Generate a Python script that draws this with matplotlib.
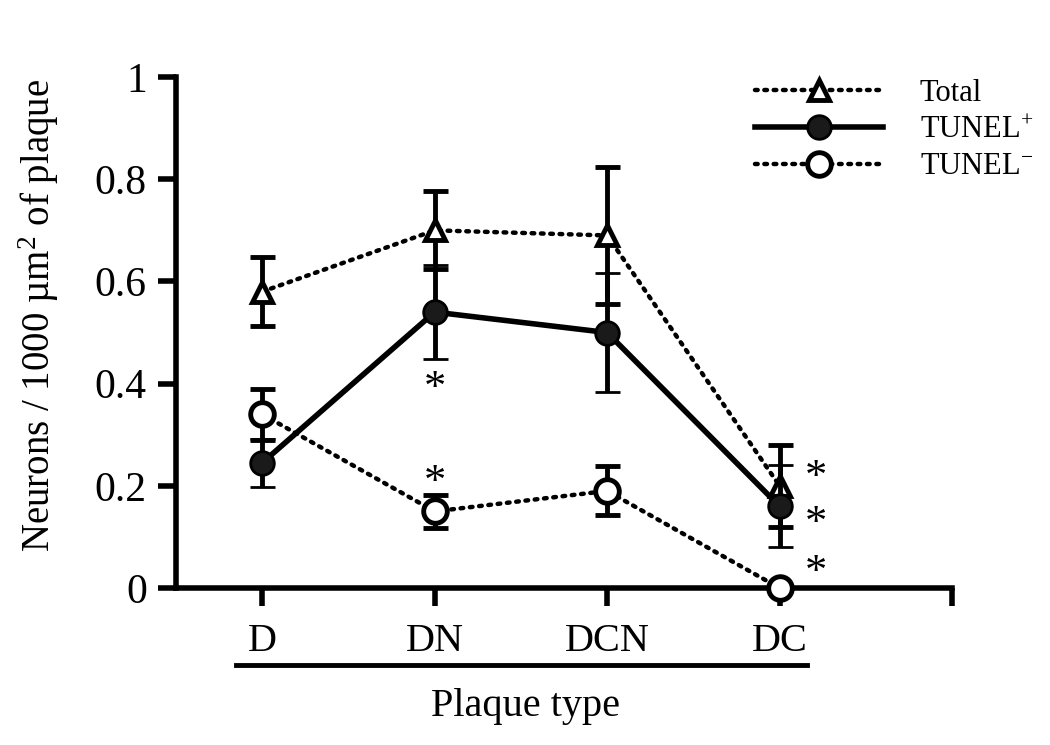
import matplotlib
matplotlib.use("Agg")
import matplotlib.pyplot as plt
import numpy as np

plt.rcParams['font.family'] = ['Liberation Serif', 'DejaVu Serif']
plt.rcParams['mathtext.fontset'] = 'custom'
plt.rcParams['mathtext.rm'] = 'Liberation Serif'
plt.rcParams['mathtext.it'] = 'Liberation Serif:italic'

# data
plaque = ["D", "DN", "DCN", "DC"]
series = ["Total", "TUNEL$^{+}$", "TUNEL$^{-}$"]
total = [0.58, 0.70, 0.69, 0.20]
total_err = [0.068, 0.076, 0.134, 0.08]
tunel_pos = [0.245, 0.54, 0.50, 0.16]
tunel_pos_err = [0.047, 0.092, 0.117, 0.08]
tunel_neg = [0.34, 0.15, 0.19, 0.0]
tunel_neg_err = [0.05, 0.032, 0.048, 0.0]

# significance stars (category index, y)
stars_x = [1.0, 1.0, 3.21, 3.21, 3.21]
stars_y = [0.39, 0.205, 0.215, 0.125, 0.03]

x = np.arange(len(plaque))

fig = plt.figure(figsize=(10.5, 7.45), dpi=100)
ax = fig.add_axes([0.1676, 0.2107, 0.9067 - 0.1676, 0.8966 - 0.2107])

dots = (0, (0.6, 1.5))
lw = 3.2
ms = 17
eb = dict(capsize=9, capthick=3.5, elinewidth=3.5, ecolor='black')

c1 = ax.errorbar(x, total, yerr=total_err, color='black', lw=lw, ls=dots,
                 dash_capstyle='round', marker='^', ms=15, mfc='white', mec='black',
                 mew=3.5, zorder=3, **eb)
c2 = ax.errorbar(x, tunel_pos, yerr=tunel_pos_err, color='black', lw=4, ls='-',
                 marker='o', ms=ms, mfc='#1a1a1a', mec='black', mew=2,
                 zorder=4, **eb)
c3 = ax.errorbar(x, tunel_neg, yerr=tunel_neg_err, color='black', lw=lw, ls=dots,
                 dash_capstyle='round', marker='o', ms=ms, mfc='white', mec='black',
                 mew=3.5, zorder=5, clip_on=False, **eb)

for sx, sy in zip(stars_x, stars_y):
    ax.text(sx, sy, "*", ha='center', va='center', fontsize=32)

ax.set_xlim(-0.5, 4.0)
ax.set_ylim(0, 1)
ax.set_xticks([0, 1, 2, 3, 4])
ax.set_xticklabels(plaque + [""])
ax.set_yticks([0, 0.2, 0.4, 0.6, 0.8, 1.0])
ax.set_yticklabels(["0", "0.2", "0.4", "0.6", "0.8", "1"])
ax.tick_params(axis='both', width=4, length=13, labelsize=30, color='black')
ax.tick_params(axis='x', pad=12, labelsize=29)
ax.tick_params(axis='y', pad=8)

for s in ['top', 'right']:
    ax.spines[s].set_visible(False)
for s in ['left', 'bottom']:
    ax.spines[s].set_linewidth(4)

ax.set_ylabel("Neurons / 1000 µm$^{2}$ of plaque", fontsize=28)
ax.yaxis.set_label_coords(-0.148, 0.534)
ax.set_xlabel("Plaque type", fontsize=29)
ax.xaxis.set_label_coords(0.45, -0.195)

# underline below the category labels
ax.plot([-0.15, 3.16], [-0.151, -0.151], color='black', lw=3.5, clip_on=False)

leg = ax.legend(handles=[c1[0], c2[0], c3[0]], labels=series, loc='upper left',
                bbox_to_anchor=(0.73, 1.02), frameon=False,
                fontsize=22, handlelength=4.2, handletextpad=1.2,
                labelspacing=0.25, borderaxespad=0)

fig.savefig("out.png", dpi=100)
